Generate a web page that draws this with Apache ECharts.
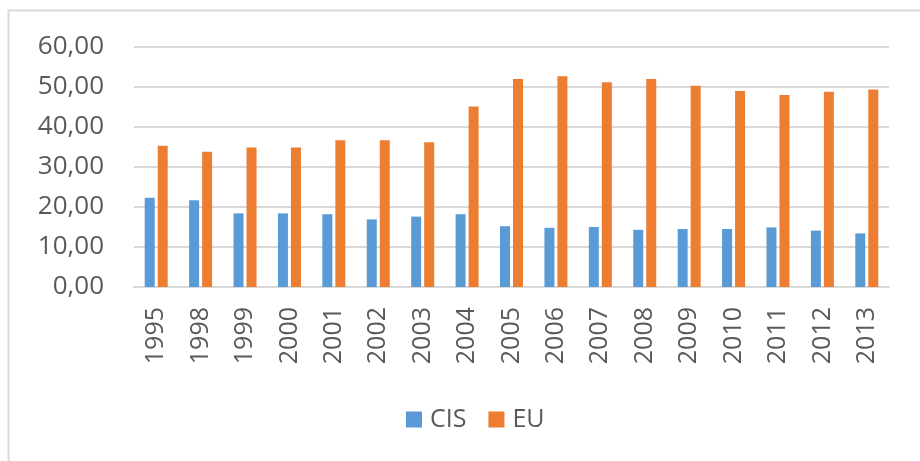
<!DOCTYPE html>
<html>
<head>
<meta charset="utf-8">
<script src="https://cdn.jsdelivr.net/npm/echarts@6/dist/echarts.min.js"></script>
<style>html,body{margin:0;padding:0;background:#fff}#c{width:920px;height:461px}</style>
</head>
<body>
<div id="c"></div>
<script>
var years = ['1995','1998','1999','2000','2001','2002','2003','2004','2005','2006','2007','2008','2009','2010','2011','2012','2013'];
var cis = [22.3,21.7,18.4,18.4,18.2,16.9,17.6,18.2,15.2,14.8,15.0,14.3,14.5,14.5,14.9,14.1,13.4];
var eu = [35.3,33.8,34.9,34.9,36.7,36.7,36.2,45.1,52.0,52.7,51.2,52.0,50.3,49.0,48.0,48.8,49.4];
var yTicks = {min:0, max:60, interval:10};

var chart = echarts.init(document.getElementById('c'), null, {renderer:'canvas'});
var font = '"Open Sans", "Noto Sans", sans-serif';
chart.setOption({
  animation:false,
  backgroundColor:'#fff',
  graphic:[{type:'rect', shape:{x:8.5,y:10.5,width:940,height:480}, style:{fill:'none', stroke:'#d9d9d9', lineWidth:2}, silent:true}],
  grid:{left:134, right:31, top:47, bottom:174, containLabel:false},
  legend:{
    left:401, top:402, itemWidth:16, itemHeight:16, itemGap:22,
    icon:'rect',
    textStyle:{fontFamily:font, fontSize:25, color:'#595959', padding:[0,0,0,3]},
    data:['CIS','EU']
  },
  xAxis:{
    type:'category', data:years,
    axisLine:{lineStyle:{color:'#d9d9d9', width:2}},
    axisTick:{show:false},
    axisLabel:{rotate:90, margin:20, fontFamily:font, fontSize:25, color:'#595959', interval:0}
  },
  yAxis:{
    type:'value', min:yTicks.min, max:yTicks.max, interval:yTicks.interval,
    axisLine:{show:false}, axisTick:{show:false},
    splitLine:{lineStyle:{color:'#d9d9d9', width:2}},
    axisLabel:{margin:30, fontFamily:font, fontSize:26, color:'#595959',
      formatter:function(v){return v.toFixed(2).replace('.', ',');}}
  },
  series:[
    {name:'CIS', type:'bar', data:cis, barWidth:10, barGap:'30%', itemStyle:{color:'#5b9bd5'}},
    {name:'EU', type:'bar', data:eu, barWidth:10, barGap:'30%', itemStyle:{color:'#ed7d31'}}
  ]
});
</script>
</body>
</html>
